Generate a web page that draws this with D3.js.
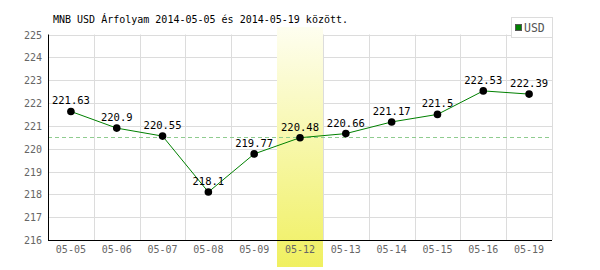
<!DOCTYPE html>
<html><head><meta charset="utf-8">
<script src="https://cdn.jsdelivr.net/npm/d3@7"></script>
<style>body{margin:0;background:#fff}svg{display:block}text{font-family:"DejaVu Sans Mono",monospace}</style>
</head><body><svg id="c" width="600" height="270"></svg>
<script>
const categories = ["05-05","05-06","05-07","05-08","05-09","05-12","05-13","05-14","05-15","05-16","05-19"];
const values = [221.63,220.9,220.55,218.1,219.77,220.48,220.66,221.17,221.5,222.53,222.39];
const labels = ["221.63","220.9","220.55","218.1","219.77","220.48","220.66","221.17","221.5","222.53","222.39"];
const yTicks = [216,217,218,219,220,221,222,223,224,225];
const refValue = 220.5;
const highlight = "05-12";
const title = "MNB USD Árfolyam 2014-05-05 és 2014-05-19 között.";
const seriesName = "USD";

const svg = d3.select("#c");
const L=48, R=552, T=34.5, B=240;
const x = d3.scaleBand().domain(categories).range([L,R]);
const y = d3.scaleLinear().domain([216,225]).range([B,T]);

const defs = svg.append("defs");
const g = defs.append("linearGradient").attr("id","hl").attr("x1",0).attr("y1",0).attr("x2",0).attr("y2",1);
g.append("stop").attr("offset","0%").attr("stop-color","#fefef0");
g.append("stop").attr("offset","100%").attr("stop-color","#f0f060");

// grid
svg.append("g").selectAll("line").data(yTicks).join("line")
  .attr("x1",L).attr("x2",R).attr("y1",d=>Math.round(y(d))+0.5).attr("y2",d=>Math.round(y(d))+0.5)
  .attr("stroke","#dcdcdc");
svg.append("g").selectAll("line").data(categories).join("line")
  .attr("x1",d=>Math.round(x(d)+x.bandwidth())+0.5).attr("x2",d=>Math.round(x(d)+x.bandwidth())+0.5)
  .attr("y1",T).attr("y2",B).attr("stroke","#dcdcdc");

// highlight band
svg.append("rect").attr("x",Math.round(x(highlight))).attr("width",Math.round(x.bandwidth()))
  .attr("y",27).attr("height",240).attr("fill","url(#hl)");

// reference dashed line
svg.append("line").attr("x1",L).attr("x2",R).attr("y1",Math.round(y(refValue))+0.5).attr("y2",Math.round(y(refValue))+0.5)
  .attr("stroke","#8fcc8f").attr("stroke-dasharray","4,3");

// axes
svg.append("line").attr("x1",L+0.5).attr("x2",L+0.5).attr("y1",T).attr("y2",B+0.5).attr("stroke","#000");
svg.append("line").attr("x1",L).attr("x2",R).attr("y1",B+0.5).attr("y2",B+0.5).attr("stroke","#000");

svg.append("g").selectAll("text").data(yTicks).join("text")
  .attr("x",42).attr("y",d=>y(d)+4).attr("text-anchor","end").attr("font-size",10).attr("fill","#666").text(d=>d);
svg.append("g").selectAll("text").data(categories).join("text")
  .attr("x",d=>x(d)+x.bandwidth()/2).attr("y",253).attr("text-anchor","middle").attr("font-size",10).attr("fill","#666").text(d=>d);

// line
svg.append("path").datum(values).attr("fill","none").attr("stroke","#008000").attr("stroke-width",1)
  .attr("d",d3.line().x((d,i)=>x(categories[i])+x.bandwidth()/2).y(d=>y(d)));
svg.append("g").selectAll("circle").data(values).join("circle")
  .attr("cx",(d,i)=>x(categories[i])+x.bandwidth()/2).attr("cy",d=>y(d)).attr("r",3.8).attr("fill","#000");
svg.append("g").selectAll("text").data(values).join("text")
  .attr("x",(d,i)=>x(categories[i])+x.bandwidth()/2).attr("y",d=>y(d)-7).attr("text-anchor","middle")
  .attr("font-size",10.5).attr("fill","#000").text((d,i)=>labels[i]);

// title
svg.append("text").attr("x",53).attr("y",23).attr("font-size",10).attr("fill","#000").text(title);

// legend
svg.append("rect").attr("x",511.5).attr("y",17.5).attr("width",41).attr("height",20).attr("fill","#fff").attr("stroke","#dcdcdc");
svg.append("rect").attr("x",515.5).attr("y",24.5).attr("width",6).attr("height",6).attr("fill","#008000").attr("stroke","#555");
svg.append("text").attr("x",524).attr("y",32).attr("font-size",11.5).attr("fill","#555").attr("font-family","Liberation Sans Narrow, Liberation Sans, sans-serif").text(seriesName);
</script></body></html>
